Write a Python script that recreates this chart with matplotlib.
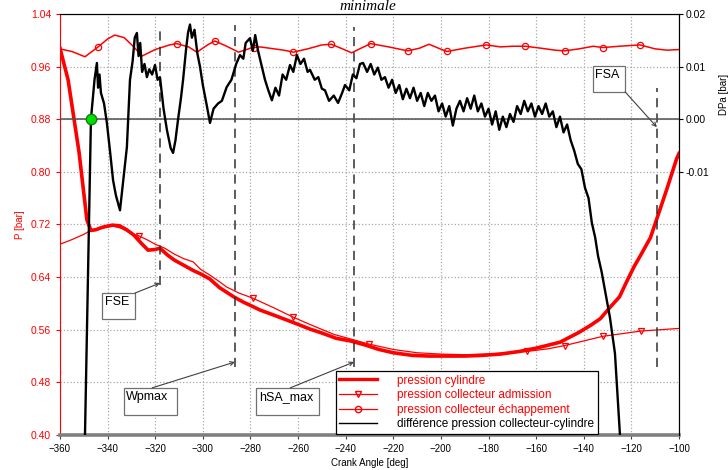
import matplotlib
matplotlib.use("Agg")
import matplotlib.pyplot as plt
from matplotlib.lines import Line2D
from matplotlib.patches import Rectangle

plt.rcParams.update({
    "font.family": ["Liberation Sans", "DejaVu Sans"],
    "font.size": 7,
})

# ── Data ──────────────────────────────────────────────────────────────────────
cyl_deg = [-360, -356.6, -352, -348.7, -347, -345, -342, -338, -335, -332, -329,
           -326, -323, -320, -318, -315, -312, -308, -304, -301, -297, -293, -290,
           -287, -283, -280, -276, -270, -262, -255, -250, -244, -238, -232, -226,
           -220, -212, -205, -200, -190, -183, -175, -167, -160, -150, -142, -137,
           -133, -129, -125, -122, -119, -116, -112, -109, -105, -101, -100]
cyl_p = [0.988, 0.94, 0.83, 0.727, 0.711, 0.712, 0.716, 0.719, 0.718, 0.712, 0.704,
         0.692, 0.681, 0.682, 0.684, 0.674, 0.666, 0.658, 0.650, 0.645, 0.637, 0.624,
         0.617, 0.610, 0.602, 0.597, 0.590, 0.582, 0.571, 0.561, 0.555, 0.547, 0.543,
         0.537, 0.530, 0.525, 0.521, 0.520, 0.520, 0.520, 0.521, 0.523, 0.527, 0.532,
         0.541, 0.556, 0.567, 0.577, 0.594, 0.610, 0.633, 0.655, 0.674, 0.700, 0.732,
         0.775, 0.820, 0.828]

adm_deg = [-360, -355, -350, -347, -343, -338, -334, -330, -327, -323, -320, -316,
           -312, -308, -304, -301, -297, -293, -290, -285, -279, -270, -262, -255,
           -245, -238, -230, -220, -210, -200, -190, -180, -164, -155, -148, -140,
           -132, -124, -116, -108, -100]
adm_p = [0.690, 0.697, 0.705, 0.711, 0.714, 0.718, 0.714, 0.706, 0.703, 0.696, 0.690,
         0.684, 0.675, 0.668, 0.663, 0.652, 0.643, 0.633, 0.625, 0.616, 0.608, 0.593,
         0.579, 0.568, 0.553, 0.546, 0.538, 0.530, 0.525, 0.523, 0.522, 0.523, 0.527,
         0.531, 0.536, 0.543, 0.550, 0.554, 0.558, 0.560, 0.562]
adm_marks = [8, 20, 22, 26, 32, 34, 36, 38]

ech_deg = [-360, -355, -349.5, -344, -340, -337, -333, -329, -325.6, -320, -314,
           -311, -306, -302.5, -298, -295, -290, -285, -280, -278.5, -276, -270,
           -266, -262, -256, -250, -246, -242, -237.5, -233, -229.5, -222, -214,
           -209, -205, -201, -197.5, -190, -181, -175, -170, -164.5, -158, -152,
           -148, -142, -136, -132, -125, -116.4, -110, -105, -100]
ech_p = [0.987, 0.983, 0.975, 0.990, 1.002, 1.008, 1.004, 0.990, 0.976, 0.986, 0.993,
         0.995, 0.990, 0.982, 0.993, 0.999, 0.991, 0.982, 0.988, 0.989, 0.990, 0.987,
         0.985, 0.982, 0.987, 0.993, 0.994, 0.988, 0.981, 0.989, 0.995, 0.990, 0.984,
         0.988, 0.994, 0.988, 0.983, 0.988, 0.993, 0.990, 0.991, 0.991, 0.988, 0.985,
         0.984, 0.987, 0.991, 0.989, 0.991, 0.993, 0.987, 0.985, 0.986]
ech_marks = [3, 11, 15, 19, 23, 26, 30, 32, 36, 38, 41, 44, 47, 49]

dp_deg = [-349.5, -347, -345.5, -344.5, -344, -343.4, -342.8, -341.5, -340.3, -339,
          -337.7, -336.5, -334.8, -333.5, -331.9, -330.6, -329.5, -328.6, -327.7,
          -327, -326.3, -325.5, -324.5, -323.5, -322.5, -321.3, -320.1, -319, -318,
          -316.5, -315.1, -313.5, -312.5, -311.5, -310.4, -309.2, -308.3, -307,
          -306.2, -305.4, -304.6, -303.5, -302.3, -301.2, -300, -298.3, -297,
          -295.5, -293.6, -292, -290, -288, -286, -284.4, -283, -282, -280.2, -279,
          -278, -276.8, -275.5, -273.9, -272.5, -271, -269.5, -268, -266.5, -265,
          -263.4, -262, -260.5, -259, -257.5, -256, -255, -253, -251.5, -250,
          -248.7, -247, -245, -243.2, -241.5, -240.3, -238.5, -237, -235.5, -234,
          -232.7, -231, -229.5, -228, -226.5, -225, -223.5, -222, -220.5, -219,
          -217.5, -216, -214.5, -213, -211.5, -210, -208.5, -207, -205.5, -204,
          -202.5, -201, -199.5, -198, -196.5, -195, -193.5, -192, -190.5, -189,
          -187.5, -186, -184.5, -183, -181.5, -180, -178.5, -177, -175.5, -174,
          -172.5, -171, -169.5, -168, -166.5, -165, -163.5, -162, -160.5, -159,
          -157.5, -156, -154.5, -153, -151.5, -150, -148.5, -147, -145.5, -144,
          -142.5, -141, -139.5, -138, -136.6, -135.2, -134, -132.5, -131.1, -129,
          -126.9, -124.8]
dp_val = [-0.06, 0.0, 0.0075, 0.0107, 0.006, 0.0085, 0.005, 0.003, -0.0007, -0.006,
          -0.0116, -0.0145, -0.0173, -0.012, -0.0053, 0.0075, 0.011, 0.0155, 0.0164,
          0.012, 0.0145, 0.009, 0.0105, 0.008, 0.0095, 0.0085, 0.0103, 0.0075,
          0.008, 0.002, -0.002, -0.0055, -0.0064, -0.004, 0.0, 0.004, 0.0075,
          0.0135, 0.0165, 0.018, 0.0155, 0.017, 0.0125, 0.010, 0.0065, 0.0025,
          -0.0007, 0.002, 0.003, 0.0035, 0.0061, 0.0075, 0.0105, 0.0122, 0.0115,
          0.0145, 0.0154, 0.013, 0.016, 0.013, 0.0105, 0.0075, 0.0055, 0.0036,
          0.006, 0.0045, 0.0085, 0.0075, 0.0103, 0.009, 0.0122, 0.0105, 0.0115,
          0.009, 0.0094, 0.0075, 0.008, 0.0058, 0.0055, 0.0035, 0.0045, 0.0031,
          0.005, 0.0065, 0.0055, 0.0085, 0.0078, 0.0105, 0.0107, 0.009, 0.0105,
          0.0085, 0.0098, 0.0075, 0.008, 0.006, 0.0075, 0.005, 0.0065, 0.0038,
          0.0058, 0.004, 0.006, 0.0035, 0.005, 0.0025, 0.005, 0.0035, 0.0045,
          0.0015, 0.003, 0.0005, 0.0025, -0.0012, 0.002, 0.0035, 0.0015, 0.004,
          0.002, 0.0045, 0.0015, 0.003, 0.0005, 0.002, -0.001, 0.0015, -0.002,
          0.0005, -0.0015, 0.001, -0.0005, 0.0025, 0.001, 0.0035, 0.0015, 0.003,
          0.0005, 0.0025, 0.001, 0.003, 0.0005, 0.0015, -0.0015, 0.0005, -0.0025,
          -0.001, -0.004, -0.006, -0.0085, -0.0095, -0.013, -0.015, -0.0197,
          -0.0225, -0.026, -0.029, -0.0325, -0.0377, -0.0445, -0.06]

green_pt = (-347, 0.0)

# event markers: angle, top and bottom of dashed line (left axis units)
ev_deg = [-318, -286.5, -236.3, -109.3]
ev_top = [1.019, 1.023, 1.021, 0.927]
ev_bot = [0.628, 0.503, 0.503, 0.503]

RED = "#ff0000"

fig = plt.figure(figsize=(7.28, 4.70), dpi=100)
ax = fig.add_axes([0.0824, 0.0745, 0.8503, 0.8957])
ax2 = ax.twinx()

# ── Left axis: pressures ──────────────────────────────────────────────────────
ax.plot(ech_deg, ech_p, color=RED, lw=1.1, marker="o", mfc="none", ms=4.5,
        mew=0.9, markevery=ech_marks)
ax.plot(adm_deg, adm_p, color=RED, lw=0.9, marker="v", mfc="none", ms=5,
        mew=0.9, markevery=adm_marks)
ax.plot(cyl_deg, cyl_p, color=RED, lw=2.6)

for d, t, b in zip(ev_deg, ev_top, ev_bot):
    ax.plot([d, d], [b, t], color="#303030", lw=1.1, ls=(0, (6, 4)))

ax.set_xlim(-360, -100)
ax.set_ylim(0.40, 1.04)
ax.set_xticks(range(-360, -99, 20))
ax.set_yticks([0.40, 0.48, 0.56, 0.64, 0.72, 0.80, 0.88, 0.96, 1.04])
ax.yaxis.set_major_formatter(plt.FormatStrFormatter("%.2f"))
ax.grid(True, ls=":", color="#a8a8a8", lw=0.9)
ax.tick_params(axis="y", colors=RED, labelsize=7.5, length=3)
ax.tick_params(axis="x", labelsize=7, length=3, color="#404040")
ax.set_ylabel("P [bar]", color=RED, fontsize=7, labelpad=4)
ax.set_xlabel("Crank Angle [deg]", fontsize=7, labelpad=3)
ax.spines["left"].set_color(RED)
ax.spines["bottom"].set_color("#808080")
ax.spines["bottom"].set_linewidth(2.6)
ax.spines["top"].set_color("black")

# ── Right axis: pressure difference ───────────────────────────────────────────
ax2.axhline(0, color="#505050", lw=1.1)
ax2.plot(dp_deg, dp_val, color="black", lw=1.7)
ax2.plot(*green_pt, "o", color="#00dd00", mec="#108010", ms=7.5, zorder=5)
ax2.set_ylim(-0.06, 0.02)
ax2.set_yticks([-0.01, 0.0, 0.01, 0.02])
ax2.yaxis.set_major_formatter(plt.FormatStrFormatter("%.2f"))
ax2.tick_params(axis="y", labelsize=7.5, length=3, pad=2)
ax2.set_ylabel("DPa [bar]", fontsize=7)
ax2.yaxis.set_label_coords(1.064, 0.81)
ax2.spines["bottom"].set_visible(False)
ax2.spines["left"].set_visible(False)

# ── Annotation boxes ──────────────────────────────────────────────────────────
boxes = [("FSE", (0.068, 0.276, 0.053, 0.061), (0.121, 0.337), (-318, 0.631)),
         ("Wpmax", (0.103, 0.048, 0.086, 0.064), (0.149, 0.112), (-286.5, 0.511)),
         ("hSA_max", (0.317, 0.048, 0.101, 0.064), (0.372, 0.112), (-236.5, 0.511)),
         ("FSA", (0.861, 0.815, 0.052, 0.061), (0.913, 0.815), (-109.3, 0.868))]
for label, (bx, by, bw, bh), start, tip in boxes:
    ax2.add_patch(Rectangle((bx, by), bw, bh, transform=ax2.transAxes,
                            fc="white", ec="#707070", lw=0.9, zorder=6))
    ax2.text(bx + 0.004, by + bh - 0.007, label, transform=ax2.transAxes,
             ha="left", va="top", fontsize=9, zorder=7)
    ax2.annotate("", xy=tip, xycoords=ax.transData, xytext=start,
                 textcoords="axes fraction",
                 arrowprops=dict(arrowstyle="->", color="#404040", lw=0.8,
                                 shrinkA=0, shrinkB=0), zorder=6)

# ── Legend ────────────────────────────────────────────────────────────────────
handles = [Line2D([], [], color=RED, lw=2.4),
           Line2D([], [], color=RED, lw=0.9, marker="v", mfc="none", ms=5),
           Line2D([], [], color=RED, lw=0.9, marker="o", mfc="none", ms=4.5),
           Line2D([], [], color="black", lw=1)]
labels = ["pression cylindre", "pression collecteur admission",
          "pression collecteur échappement",
          "différence pression collecteur-cylindre"]
leg = ax2.legend(handles, labels, loc="lower left", bbox_to_anchor=(0.446, 0.003),
                 fontsize=8.5, frameon=True, fancybox=False, edgecolor="black",
                 framealpha=1, handlelength=3.2, handletextpad=1.7,
                 labelspacing=0.22, borderpad=0.28, borderaxespad=0)
leg.get_frame().set_linewidth(0.9)
leg.set_zorder(10)
for txt, c in zip(leg.get_texts(), [RED, RED, RED, "black"]):
    txt.set_color(c)

# title, only its last word shows above the plot
fig.text(0.505, 0.999, "minimale", ha="center", va="top", fontsize=11,
         style="italic", family="Liberation Serif")

fig.savefig("out.png", dpi=100)
